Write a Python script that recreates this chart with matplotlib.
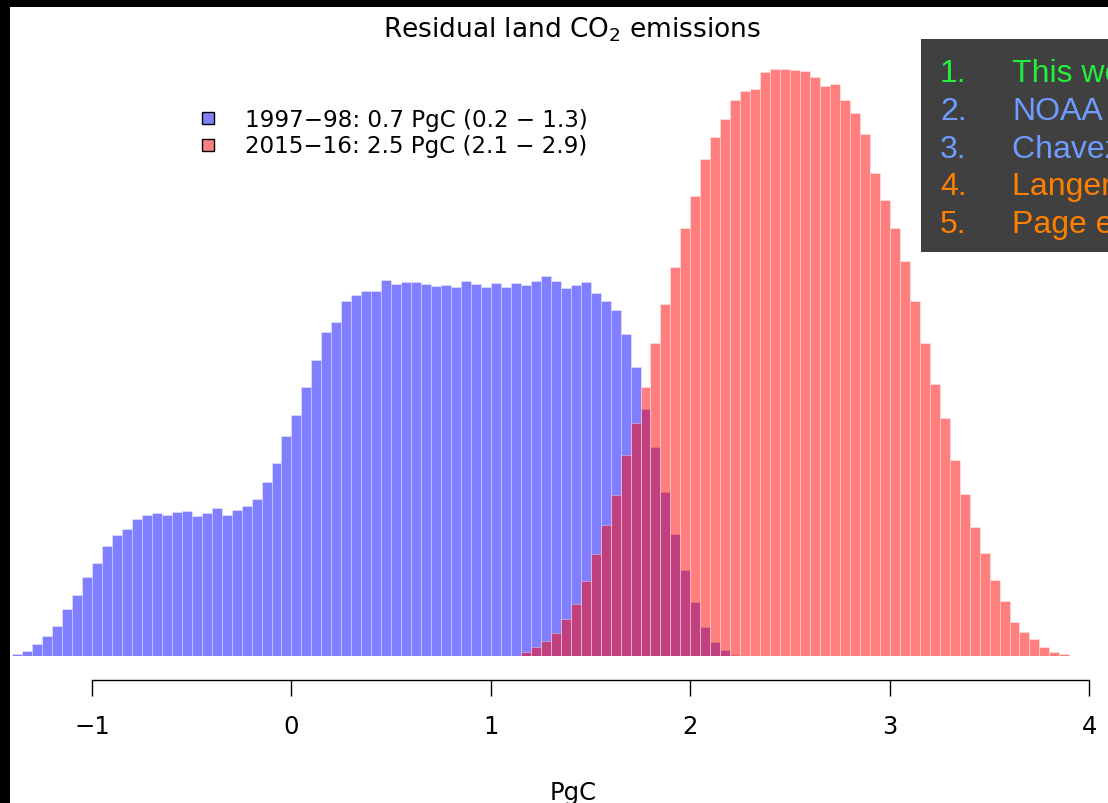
import numpy as np
import matplotlib
matplotlib.use("Agg")
from matplotlib import pyplot as plt
from matplotlib.patches import Rectangle

# histogram of residual land emissions, 0.05 PgC bins
bin_width = 0.05

# 1997-98 ensemble, first bin starts at -1.40 PgC
blue_start = -1.40
blue_freq = [2, 5, 12, 20, 30, 47, 61, 79, 93, 110, 121, 127, 137, 141, 143, 141,
             144, 145, 140, 143, 148, 141, 146, 150, 157, 174, 193, 220, 241, 269,
             296, 324, 334, 355, 361, 365, 365, 376, 372, 374, 374, 372, 370, 371,
             369, 375, 372, 369, 373, 369, 373, 371, 375, 380, 375, 368, 371, 374,
             363, 355, 346, 322, 289, 247, 209, 164, 122, 86, 54, 29, 14, 6, 1]

# 2015-16 ensemble, first bin starts at 1.10 PgC
red_start = 1.10
red_freq = [0.5, 4, 9, 15, 23, 37, 52, 75, 102, 131, 161, 201, 233, 269, 313, 352,
            389, 428, 460, 497, 519, 537, 556, 565, 567, 584, 587, 587, 586, 585,
            579, 570, 572, 556, 543, 522, 483, 456, 428, 395, 355, 313, 272, 238,
            196, 162, 129, 103, 76, 55, 34, 24, 17, 9, 4, 2, 0.5]

legend_labels = ["1997\u221298: 0.7 PgC (0.2 \u2212 1.3)",
                 "2015\u221216: 2.5 PgC (2.1 \u2212 2.9)"]
xticks = [-1, 0, 1, 2, 3, 4]

refs = ["This work", "NOAA", "Chavez et al.", "Langenfelds et al.", "Page et al."]
ref_colors = ["#22ee3c", "#6f9cff", "#6f9cff", "#ff8000", "#ff8000"]

W, H = 1108, 804
fig = plt.figure(figsize=(W / 100, H / 100), dpi=100)
fig.patch.set_facecolor("black")


def fx(px):
    return px / W


def fy(py):
    return 1 - py / H


# white page, black strip left and top
fig.add_artist(Rectangle((fx(10), 0), 1, fy(8), transform=fig.transFigure,
                         facecolor="white", edgecolor="none", zorder=0))

ax = fig.add_axes([fx(10), fy(657), fx(W - 10), (657 - 8) / H])
ax.patch.set_alpha(0)

blue_x = blue_start + bin_width * np.arange(len(blue_freq))
red_x = red_start + bin_width * np.arange(len(red_freq))
ax.bar(blue_x, blue_freq, width=bin_width, align="edge",
       color=(0, 0, 1, 0.5), edgecolor=(1, 1, 1, 0.35), linewidth=0.7)
ax.bar(red_x, red_freq, width=bin_width, align="edge",
       color=(1, 0, 0, 0.5), edgecolor=(1, 1, 1, 0.35), linewidth=0.7)

px_per_unit = 199.5
ax.set_xlim(-1 - (92 - 10) / px_per_unit, 4 + (W - 1089.3) / px_per_unit)
ax.set_ylim(0, 657 - 8)

for s in ["left", "right", "top"]:
    ax.spines[s].set_visible(False)
ax.spines["bottom"].set_position(("outward", 17.3))
ax.spines["bottom"].set_bounds(-1, 4)
ax.spines["bottom"].set_linewidth(1.0)
ax.set_yticks([])
ax.set_xticks(xticks)
ax.set_xticklabels([str(t).replace("-", "\u2212") for t in xticks], fontsize=17.5)
ax.tick_params(axis="x", length=11.5, width=1.0, pad=13)

fig.text(fx(573), fy(800), "PgC", fontsize=17.5, ha="center", va="baseline")
fig.text(fx(572), fy(37), "Residual land CO$_2$ emissions", fontsize=19,
         ha="center", va="baseline")

# legend, drawn R-style without a frame
leg_cols = ["#8080ff", "#ff8080"]
for i, (lab, c) in enumerate(zip(legend_labels, leg_cols)):
    yc = 118.5 + 27 * i
    fig.add_artist(Rectangle((fx(201.5), fy(yc + 6)), 12 / W, 12 / H,
                             transform=fig.transFigure, facecolor=c,
                             edgecolor="black", linewidth=1.0))
    fig.text(fx(245), fy(yc + 8), lab, fontsize=16.6, ha="left", va="baseline")

# reference list box
fig.add_artist(Rectangle((fx(921), fy(253)), 1, (253 - 40) / H,
                         transform=fig.transFigure, facecolor="#404040",
                         edgecolor="none", zorder=3))
for i, (r, c) in enumerate(zip(refs, ref_colors)):
    yb = 82 + 37.8 * i
    fig.text(fx(940), fy(yb), "%d." % (i + 1), color=c, fontsize=23,
             family="Liberation Sans", va="baseline", zorder=4)
    fig.text(fx(1012), fy(yb), r, color=c, fontsize=23,
             family="Liberation Sans", va="baseline", zorder=4)

fig.savefig("out.png", dpi=100, facecolor=fig.get_facecolor())
